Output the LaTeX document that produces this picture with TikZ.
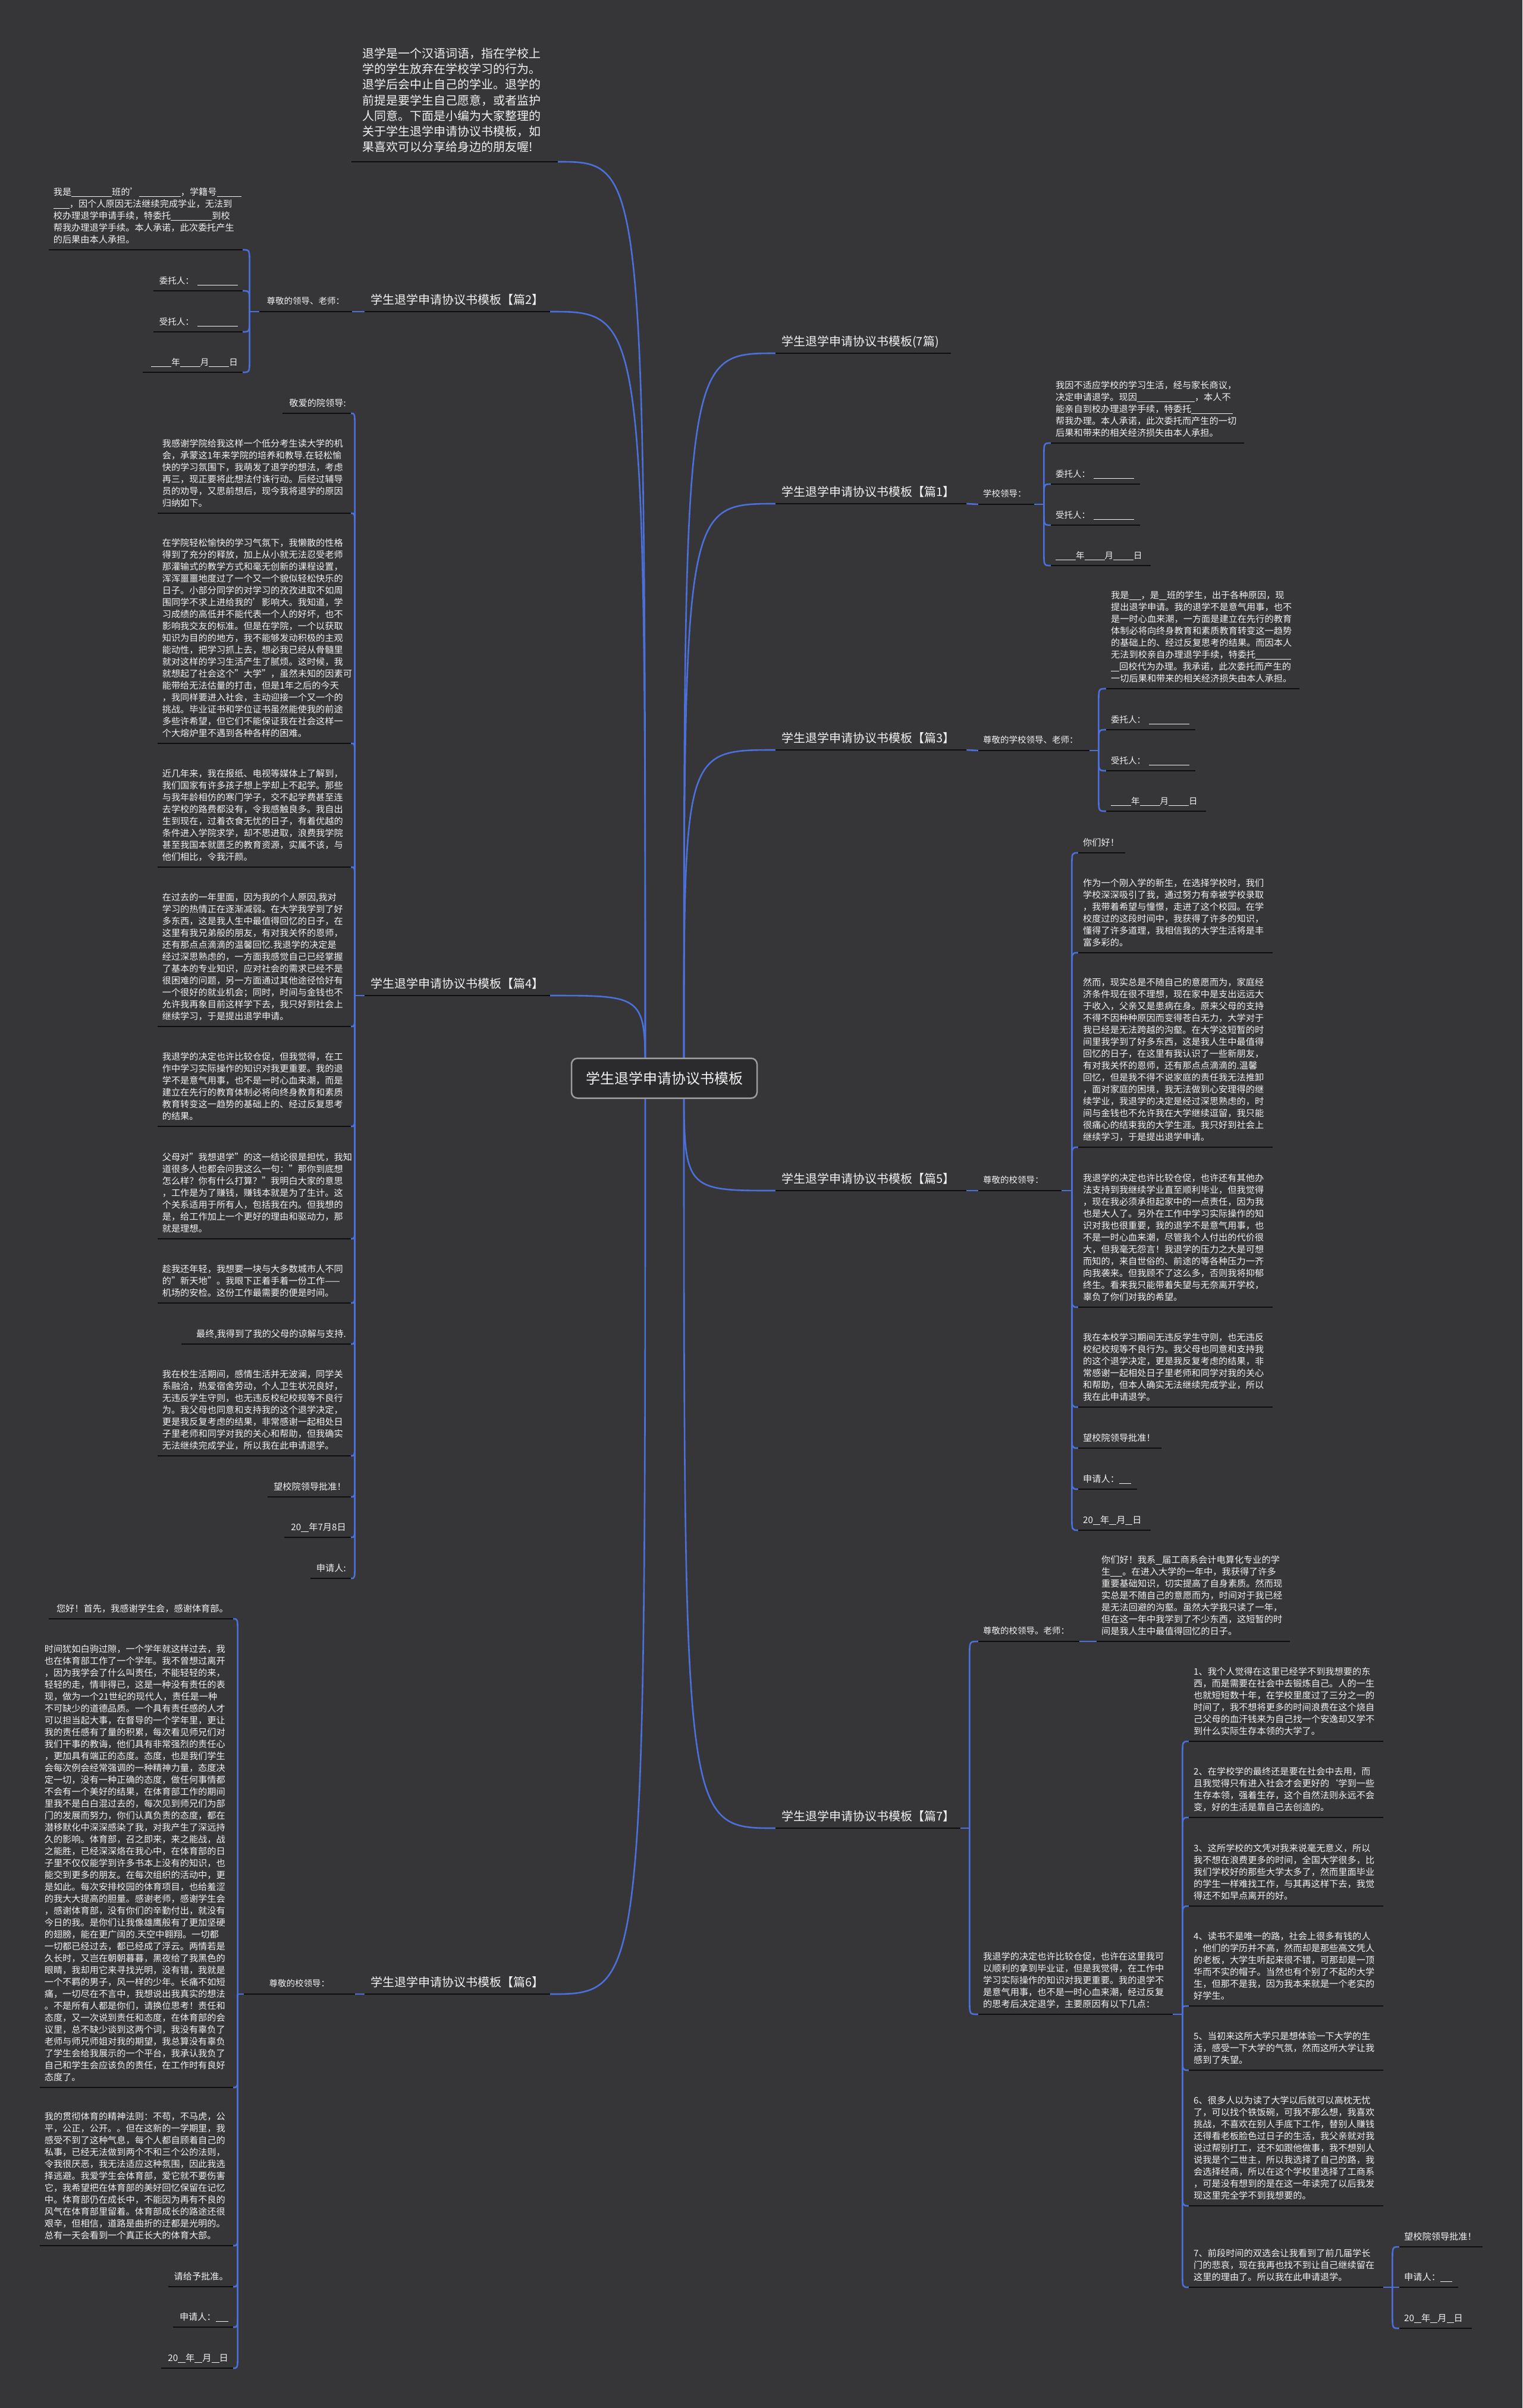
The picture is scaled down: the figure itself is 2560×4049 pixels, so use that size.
\documentclass[tikz,border=0pt]{standalone}
\usepackage{fontspec}
\setmainfont{Noto Sans CJK SC}
\usetikzlibrary{calc}
\definecolor{bgc}{HTML}{363638}
\definecolor{bluec}{HTML}{4C70DA}
\definecolor{txtc}{HTML}{F2F2F2}
\definecolor{ulc}{HTML}{0E0E0E}
\definecolor{cfill}{HTML}{2B2B2D}
\definecolor{cborder}{HTML}{9C9C9C}
\pgfdeclarelayer{back}
\pgfdeclarelayer{lines}
\pgfsetlayers{back,lines,main}
\setlength{\parindent}{0pt}
\newcommand\fbody{\fontsize{15.2pt}{20pt}\selectfont}
\newcommand\flab{\fontsize{14.5pt}{20pt}\selectfont}
\newcommand\fttl{\fontsize{20pt}{26pt}\selectfont}
\newcommand\fintro{\fontsize{20pt}{26.2pt}\selectfont}
\newcommand\fcent{\fontsize{24pt}{30pt}\selectfont}
\newcommand\bl[1]{\rule[-1.8pt]{#1pt}{1.1pt}}
\newcommand\brk[3]{\draw[conn] (#1) -- ($(#1|-#2)+(0,#3)$) .. controls (#1|-#2) .. (#2);}
\tikzset{
 every node/.style={text=txtc},
 conn/.style={draw=bluec, line width=2.6pt},
 uline/.style={draw=ulc, line width=2.8pt},
 item/.style={font=\fbody, inner xsep=8pt, inner ysep=2pt, align=left, execute at end node={\rule[-9pt]{0pt}{9pt}}},
 itemr/.style={item, align=right},
 small/.style={item, font=\flab},
 smallr/.style={small, align=right},
 lab/.style={font=\flab, inner xsep=8pt, inner ysep=2pt, align=left, execute at end node={\rule[-10pt]{0pt}{10pt}}},
 ttl/.style={font=\fttl, inner xsep=10pt, inner ysep=2pt, align=left, execute at end node={\rule[-10pt]{0pt}{10pt}}},
 intro/.style={font=\fintro, inner xsep=19pt, inner ysep=2pt, align=left, execute at end node={\rule[-15pt]{0pt}{15pt}}},
 cbox/.style={draw=cborder, fill=cfill, line width=2.5pt, rounded corners=10pt, minimum width=312pt, minimum height=67pt, font=\fcent, inner sep=0pt},
}
\begin{document}
\begin{tikzpicture}[x=1pt,y=-1pt]
\begin{pgfonlayer}{back}
\fill[bgc] (0,0) rectangle (2560,4049);
\end{pgfonlayer}
\useasboundingbox (0,0) rectangle (2560,4049);

\node[cbox] (C) at (1117,1813) {学生退学申请协议书模板};

\node[intro, anchor=south east, text width=309pt] (IN) at (938,272) {退学是一个汉语词语，指在学校上\\学的学生放弃在学校学习的行为。\\退学后会中止自己的学业。退学的\\前提是要学生自己愿意，或者监护\\人同意。下面是小编为大家整理的\\关于学生退学申请协议书模板，如\\果喜欢可以分享给身边的朋友喔!};

% titles right
\node[ttl, anchor=south west, text width=275pt] (T7p) at (1304,594) {学生退学申请协议书模板(7篇)};
\node[ttl, anchor=south west, text width=301pt] (T1) at (1304,847) {学生退学申请协议书模板【篇1】};
\node[ttl, anchor=south west, text width=301pt] (T3) at (1304,1261) {学生退学申请协议书模板【篇3】};
\node[ttl, anchor=south west, text width=301pt] (T5) at (1304,2002) {学生退学申请协议书模板【篇5】};
\node[ttl, anchor=south west, text width=291pt] (T7) at (1304,3074) {学生退学申请协议书模板【篇7】};
% titles left
\node[ttl, anchor=south east, text width=292pt, align=right] (T2) at (925,524) {学生退学申请协议书模板【篇2】};
\node[ttl, anchor=south east, text width=292pt, align=right] (T4) at (925,1674) {学生退学申请协议书模板【篇4】};
\node[ttl, anchor=south east, text width=292pt, align=right] (T6) at (925,3353) {学生退学申请协议书模板【篇6】};

% labels
\node[lab, anchor=south west, text width=78pt] (S1) at (1645,848) {学校领导：};
\node[lab, anchor=south west, text width=171pt] (S3) at (1645,1262) {尊敬的学校领导、老师：};
\node[lab, anchor=south west, text width=124pt] (S5) at (1645,2002) {尊敬的校领导：};
\node[lab, anchor=south west, text width=154pt] (S7) at (1645,2760) {尊敬的校领导。老师：};
\node[lab, anchor=south east, text width=140pt, align=center] (S2) at (592,524) {尊敬的领导、老师：};
\node[lab, anchor=south east, text width=171pt, align=center] (S6) at (597,3353) {尊敬的校领导：};

% ---------- 篇1
\node[item, anchor=south west, text width=309pt] (P1a) at (1767,745) {我因不适应学校的学习生活，经与家长商议，\\决定申请退学。现因\bl{97}，本人不\\能亲自到校办理退学手续，特委托\bl{70}\\帮我办理。本人承诺，此次委托而产生的一切\\后果和带来的相关经济损失由本人承担。};
\node[small, anchor=south west, text width=134pt] (P1b) at (1767,814) {委托人：\hspace{6pt}\bl{68}};
\node[small, anchor=south west, text width=134pt] (P1c) at (1767,883) {受托人：\hspace{6pt}\bl{68}};
\node[small, anchor=south west, text width=152pt] (P1d) at (1767,951) {\bl{34}年\bl{34}月\bl{34}日};

% ---------- 篇3
\node[item, anchor=south west, text width=309pt] (P3a) at (1860,1158) {我是\bl{20}，是\bl{13}班的学生，出于各种原因，现\\提出退学申请。我的退学不是意气用事，也不\\是一时心血来潮，一方面是建立在先行的教育\\体制必将向终身教育和素质教育转变这一趋势\\的基础上的、经过反复思考的结果。而因本人\\无法到校亲自办理退学手续，特委托\bl{60}\\\bl{14}回校代为办理。我承诺，此次委托而产生的\\一切后果和带来的相关经济损失由本人承担。};
\node[small, anchor=south west, text width=134pt] (P3b) at (1860,1227) {委托人：\hspace{6pt}\bl{68}};
\node[small, anchor=south west, text width=134pt] (P3c) at (1860,1296) {受托人：\hspace{6pt}\bl{68}};
\node[small, anchor=south west, text width=152pt] (P3d) at (1860,1364) {\bl{34}年\bl{34}月\bl{34}日};

% ---------- 篇5
\node[item, anchor=south west, text width=63pt] (P5a) at (1813,1434) {你们好！};
\node[item, anchor=south west, text width=311pt] (P5b) at (1813,1602) {作为一个刚入学的新生，在选择学校时，我们\\学校深深吸引了我，通过努力有幸被学校录取\\，我带着希望与憧憬，走进了这个校园。在学\\校度过的这段时间中，我获得了许多的知识，\\懂得了许多道理，我相信我的大学生活将是丰\\富多彩的。};
\node[item, anchor=south west, text width=311pt] (P5c) at (1813,1929) {然而，现实总是不随自己的意愿而为，家庭经\\济条件现在很不理想，现在家中是支出远远大\\于收入，父亲又是患病在身。原来父母的支持\\不得不因种种原因而变得苍白无力，大学对于\\我已经是无法跨越的沟壑。在大学这短暂的时\\间里我学到了好多东西，这是我人生中最值得\\回忆的日子，在这里有我认识了一些新朋友，\\有对我关怀的恩师，还有那点点滴滴的.温馨\\回忆，但是我不得不说家庭的责任我无法推卸\\，面对家庭的困境，我无法做到心安理得的继\\续学业，我退学的决定是经过深思熟虑的，时\\间与金钱也不允许我在大学继续逗留，我只能\\很痛心的结束我的大学生涯。我只好到社会上\\继续学习，于是提出退学申请。};
\node[item, anchor=south west, text width=311pt] (P5d) at (1813,2198) {我退学的决定也许比较仓促，也许还有其他办\\法支持到我继续学业直至顺利毕业，但我觉得\\，现在我必须承担起家中的一点责任，因为我\\也是大人了。另外在工作中学习实际操作的知\\识对我也很重要，我的退学不是意气用事，也\\不是一时心血来潮，尽管我个人付出的代价很\\大，但我毫无怨言！我退学的压力之大是可想\\而知的，来自世俗的、前途的等各种压力一齐\\向我袭来。但我顾不了这么多，否则我将抑郁\\终生。看来我只能带着失望与无奈离开学校，\\辜负了你们对我的希望。};
\node[item, anchor=south west, text width=311pt] (P5e) at (1813,2366) {我在本校学习期间无违反学生守则，也无违反\\校纪校规等不良行为。我父母也同意和支持我\\的这个退学决定，更是我反复考虑的结果，非\\常感谢一起相处日子里老师和同学对我的关心\\和帮助，但本人确实无法继续完成学业，所以\\我在此申请退学。};
\node[item, anchor=south west, text width=124pt] (P5f) at (1813,2435) {望校院领导批准！};
\node[item, anchor=south west, text width=83pt] (P5g) at (1813,2504) {申请人：\bl{20}};
\node[item, anchor=south west, text width=106pt] (P5h) at (1813,2573) {20\bl{12}年\bl{12}月\bl{12}日};

% ---------- 篇7
\node[item, anchor=south west, text width=309pt] (P7a) at (1844,2760) {你们好！我系\bl{11}届工商系会计电算化专业的学\\生\bl{20}。在进入大学的一年中，我获得了许多\\重要基础知识，切实提高了自身素质。然而现\\实总是不随自己的意愿而为，时间对于我已经\\是无法回避的沟壑。虽然大学我只读了一年，\\但在这一年中我学到了不少东西，这短暂的时\\间是我人生中最值得回忆的日子。};
\node[item, anchor=south west, text width=311pt] (P7b) at (1645,3387) {我退学的决定也许比较仓促，也许在这里我可\\以顺利的拿到毕业证，但是我觉得，在工作中\\学习实际操作的知识对我更重要。我的退学不\\是意气用事，也不是一时心血来潮，经过反复\\的思考后决定退学，主要原因有以下几点：};
\node[item, anchor=south west, text width=311pt] (I1) at (1999,2928) {1、我个人觉得在这里已经学不到我想要的东\\西，而是需要在社会中去锻炼自己。人的一生\\也就短短数十年，在学校里度过了三分之一的\\时间了，我不想将更多的时间浪费在这个烧自\\己父母的血汗钱来为自己找一个安逸却又学不\\到什么实际生存本领的大学了。};
\node[item, anchor=south west, text width=311pt] (I2) at (1999,3056) {2、在学校学的最终还是要在社会中去用，而\\且我觉得只有进入社会才会更好的`学到一些\\生存本领，强着生存，这个自然法则永远不会\\变，好的生活是靠自己去创造的。};
\node[item, anchor=south west, text width=311pt] (I3) at (1999,3205) {3、这所学校的文凭对我来说毫无意义，所以\\我不想在浪费更多的时间，全国大学很多，比\\我们学校好的那些大学太多了，然而里面毕业\\的学生一样难找工作，与其再这样下去，我觉\\得还不如早点离开的好。};
\node[item, anchor=south west, text width=311pt] (I4) at (1999,3373) {4、读书不是唯一的路，社会上很多有钱的人\\，他们的学历并不高，然而却是那些高文凭人\\的老板，大学生听起来很不错，可那却是一顶\\华而不实的帽子。当然也有个别了不起的大学\\生，但那不是我，因为我本来就是一个老实的\\好学生。};
\node[item, anchor=south west, text width=311pt] (I5) at (1999,3481) {5、当初来这所大学只是想体验一下大学的生\\活，感受一下大学的气氛，然而这所大学让我\\感到了失望。};
\node[item, anchor=south west, text width=311pt] (I6) at (1999,3709) {6、很多人以为读了大学以后就可以高枕无忧\\了，可以找个铁饭碗，可我不那么想，我喜欢\\挑战，不喜欢在别人手底下工作，替别人赚钱\\还得看老板脸色过日子的生活，我父亲就对我\\说过帮别打工，还不如跟他做事，我不想别人\\说我是个二世主，所以我选择了自己的路，我\\会选择经商，所以在这个学校里选择了工商系\\，可是没有想到的是在这一年读完了以后我发\\现这里完全学不到我想要的。};
\node[item, anchor=south west, text width=311pt] (I7) at (1999,3846) {7、前段时间的双选会让我看到了前几届学长\\门的悲哀，现在我再也找不到让自己继续留在\\这里的理由了。所以我在此申请退学。};
\node[item, anchor=south west, text width=124pt] (Q1) at (2353,3778) {望校院领导批准！};
\node[item, anchor=south west, text width=83pt] (Q2) at (2353,3846) {申请人：\bl{20}};
\node[item, anchor=south west, text width=106pt] (Q3) at (2353,3915) {20\bl{12}年\bl{12}月\bl{12}日};

% ---------- 篇2
\node[item, anchor=south east, text width=310pt] (P2a) at (408,420) {我是\bl{68}班的'\bl{70}，学籍号\bl{41}\\\bl{27}，因个人原因无法继续完成学业，无法到\\校办理退学申请手续，特委托\bl{69}到校\\帮我办理退学手续。本人承诺，此次委托产生\\的后果由本人承担。};
\node[smallr, anchor=south east, text width=134pt] (P2b) at (408,489) {委托人：\hspace{6pt}\bl{68}};
\node[smallr, anchor=south east, text width=134pt] (P2c) at (408,558) {受托人：\hspace{6pt}\bl{68}};
\node[smallr, anchor=south east, text width=152pt] (P2d) at (408,626) {\bl{34}年\bl{34}月\bl{34}日};

% ---------- 篇4
\node[itemr, anchor=south east, text width=99pt] (P4a) at (590,695) {敬爱的院领导:};
\node[item, anchor=south east, text width=309pt] (P4b) at (590,863) {我感谢学院给我这样一个低分考生读大学的机\\会，承蒙这1年来学院的培养和教导.在轻松愉\\快的学习氛围下，我萌发了退学的想法，考虑\\再三，现正要将此想法付诛行动。后经过辅导\\员的劝导，又思前想后，现今我将退学的原因\\归纳如下。};
\node[item, anchor=south east, text width=309pt] (P4c) at (590,1250) {在学院轻松愉快的学习气氛下，我懒散的性格\\得到了充分的释放，加上从小就无法忍受老师\\那灌输式的教学方式和毫无创新的课程设置，\\浑浑噩噩地度过了一个又一个貌似轻松快乐的\\日子。小部分同学的对学习的孜孜进取不如周\\围同学不求上进给我的'影响大。我知道，学\\习成绩的高低并不能代表一个人的好坏，也不\\影响我交友的标准。但是在学院，一个以获取\\知识为目的的地方，我不能够发动积极的主观\\能动性，把学习抓上去，想必我已经从骨髓里\\就对这样的学习生活产生了腻烦。这时候，我\\就想起了社会这个"大学"，虽然未知的因素可\\能带给无法估量的打击，但是1年之后的今天\\，我同样要进入社会，主动迎接一个又一个的\\挑战。毕业证书和学位证书虽然能使我的前途\\多些许希望，但它们不能保证我在社会这样一\\个大熔炉里不遇到各种各样的困难。};
\node[item, anchor=south east, text width=309pt] (P4d) at (590,1458) {近几年来，我在报纸、电视等媒体上了解到，\\我们国家有许多孩子想上学却上不起学。那些\\与我年龄相仿的寒门学子，交不起学费甚至连\\去学校的路费都没有，令我感触良多。我自出\\生到现在，过着衣食无忧的日子，有着优越的\\条件进入学院求学，却不思进取，浪费我学院\\甚至我国本就匮乏的教育资源，实属不该，与\\他们相比，令我汗颜。};
\node[item, anchor=south east, text width=309pt] (P4e) at (590,1726) {在过去的一年里面，因为我的个人原因,我对\\学习的热情正在逐渐减弱。在大学我学到了好\\多东西，这是我人生中最值得回忆的日子，在\\这里有我兄弟般的朋友，有对我关怀的恩师，\\还有那点点滴滴的温馨回忆.我退学的决定是\\经过深思熟虑的，一方面我感觉自己已经掌握\\了基本的专业知识，应对社会的需求已经不是\\很困难的问题，另一方面通过其他途径恰好有\\一个很好的就业机会；同时，时间与金钱也不\\允许我再象目前这样学下去，我只好到社会上\\继续学习，于是提出退学申请。};
\node[item, anchor=south east, text width=309pt] (P4f) at (590,1894) {我退学的决定也许比较仓促，但我觉得，在工\\作中学习实际操作的知识对我更重要。我的退\\学不是意气用事，也不是一时心血来潮，而是\\建立在先行的教育体制必将向终身教育和素质\\教育转变这一趋势的基础上的、经过反复思考\\的结果。};
\node[item, anchor=south east, text width=309pt] (P4g) at (590,2083) {父母对"我想退学"的这一结论很是担忧，我知\\道很多人也都会问我这么一句："那你到底想\\怎么样？你有什么打算？"我明白大家的意思\\，工作是为了赚钱，赚钱本就是为了生计。这\\个关系适用于所有人，包括我在内。但我想的\\是，给工作加上一个更好的理由和驱动力，那\\就是理想。};
\node[item, anchor=south east, text width=309pt] (P4h) at (590,2191) {趁我还年轻，我想要一块与大多数城市人不同\\的"新天地"。我眼下正着手着一份工作——\\机场的安检。这份工作最需要的便是时间。};
\node[itemr, anchor=south east, text width=269pt] (P4i) at (590,2260) {最终,我得到了我的父母的谅解与支持.};
\node[item, anchor=south east, text width=309pt] (P4j) at (590,2448) {我在校生活期间，感情生活并无波澜，同学关\\系融洽，热爱宿舍劳动，个人卫生状况良好，\\无违反学生守则，也无违反校纪校规等不良行\\为。我父母也同意和支持我的这个退学决定，\\更是我反复考虑的结果，非常感谢一起相处日\\子里老师和同学对我的关心和帮助，但我确实\\无法继续完成学业，所以我在此申请退学。};
\node[itemr, anchor=south east, text width=124pt] (P4k) at (590,2517) {望校院领导批准！};
\node[itemr, anchor=south east, text width=96pt] (P4l) at (590,2585) {20\bl{13}年7月8日};
\node[itemr, anchor=south east, text width=52pt] (P4m) at (590,2654) {申请人:};

% ---------- 篇6
\node[itemr, anchor=south east, text width=294pt] (P6a) at (392,2722) {您好！首先，我感谢学生会，感谢体育部。};
\node[item, anchor=south east, text width=309pt] (P6b) at (392,3510) {时间犹如白驹过隙，一个学年就这样过去，我\\也在体育部工作了一个学年。我不曾想过离开\\，因为我学会了什么叫责任，不能轻轻的来，\\轻轻的走，情非得已，这是一种没有责任的表\\现，做为一个21世纪的现代人，责任是一种\\不可缺少的道德品质。一个具有责任感的人才\\可以担当起大事，在督导的一个学年里，更让\\我的责任感有了量的积累，每次看见师兄们对\\我们干事的教诲，他们具有非常强烈的责任心\\，更加具有端正的态度。态度，也是我们学生\\会每次例会经常强调的一种精神力量，态度决\\定一切，没有一种正确的态度，做任何事情都\\不会有一个美好的结果，在体育部工作的期间\\里我不是白白混过去的，每次见到师兄们为部\\门的发展而努力，你们认真负责的态度，都在\\潜移默化中深深感染了我，对我产生了深远持\\久的影响。体育部，召之即来，来之能战，战\\之能胜，已经深深烙在我心中，在体育部的日\\子里不仅仅能学到许多书本上没有的知识，也\\能交到更多的朋友。在每次组织的活动中，更\\是如此。每次安排校园的体育项目，也给羞涩\\的我大大提高的胆量。感谢老师，感谢学生会\\，感谢体育部，没有你们的辛勤付出，就没有\\今日的我。是你们让我像雄鹰般有了更加坚硬\\的翅膀，能在更广阔的.天空中翱翔。一切都\\一切都已经过去，都已经成了浮云。两情若是\\久长时，又岂在朝朝暮暮，黑夜给了我黑色的\\眼睛，我却用它来寻找光明，没有错，我就是\\一个不羁的男子，风一样的少年。长痛不如短\\痛，一切尽在不言中，我想说出我真实的想法\\。不是所有人都是你们，请换位思考！责任和\\态度，又一次说到责任和态度，在体育部的会\\议里，总不缺少谈到这两个词，我没有辜负了\\老师与师兄师姐对我的期望，我总算没有辜负\\了学生会给我展示的一个平台，我承认我负了\\自己和学生会应该负的责任，在工作时有良好\\态度了。};
\node[item, anchor=south east, text width=309pt] (P6c) at (392,3776) {我的贯彻体育的精神法则：不苟，不马虎，公\\平，公正，公开。。但在这新的一学期里，我\\感受不到了这种气息，每个人都自顾着自己的\\私事，已经无法做到两个不和三个公的法则，\\令我很厌恶，我无法适应这种氛围，因此我选\\择逃避。我爱学生会体育部，爱它就不要伤害\\它，我希望把在体育部的美好回忆保留在记忆\\中。体育部仍在成长中，不能因为再有不良的\\风气在体育部里留着。体育部成长的路途还很\\艰辛，但相信，道路是曲折的迂都是光明的。\\总有一天会看到一个真正长大的体育大部。};
\node[itemr, anchor=south east, text width=93pt] (P6d) at (392,3845) {请给予批准。};
\node[itemr, anchor=south east, text width=85pt] (P6e) at (392,3913) {申请人：\bl{21}};
\node[itemr, anchor=south east, text width=105pt] (P6f) at (392,3982) {20\bl{13}年\bl{13}月\bl{13}日};

% underlines
\foreach \n in {IN,T7p,T1,T3,T5,T7,T2,T4,T6,S1,S3,S5,S7,S2,S6,P1a,P1b,P1c,P1d,P3a,P3b,P3c,P3d,P5a,P5b,P5c,P5d,P5e,P5f,P5g,P5h,P7a,P7b,I1,I2,I3,I4,I5,I6,I7,Q1,Q2,Q3,P2a,P2b,P2c,P2d,P4a,P4b,P4c,P4d,P4e,P4f,P4g,P4h,P4i,P4j,P4k,P4l,P4m,P6a,P6b,P6c,P6d,P6e,P6f}
  \draw[uline] (\n.south west) -- (\n.south east);

\begin{pgfonlayer}{lines}
\coordinate (cR) at (1150,1813);
\coordinate (cL) at (1085,1813);
\foreach \t in {T7p,T1,T3,T5,T7}
  \draw[conn] (cR) .. controls (cR|-\t.south west) .. (\t.south west);
\foreach \t in {IN,T2,T4,T6}
  \draw[conn] (cL) .. controls (cL|-\t.south east) .. (\t.south east);

\draw[conn] (T1.south east) -- (S1.south west);
\draw[conn] (T3.south east) -- (S3.south west);
\draw[conn] (T5.south east) -- (S5.south west);
\draw[conn] (S2.south east) -- (T2.south west);
\draw[conn] (S6.south east) -- (T6.south west);
\draw[conn] (S7.south east) -- (P7a.south west);

% G1
\coordinate (b1) at ($(S1.south east)+(16,0)$);
\draw[conn] (S1.south east) -- (b1);
\brk{b1}{P1a.south west}{22}\brk{b1}{P1b.south west}{22}
\brk{b1}{P1c.south west}{-22}\brk{b1}{P1d.south west}{-22}
% G3
\coordinate (b3) at ($(S3.south east)+(15,0)$);
\draw[conn] (S3.south east) -- (b3);
\brk{b3}{P3a.south west}{22}\brk{b3}{P3b.south west}{22}
\brk{b3}{P3c.south west}{-22}\brk{b3}{P3d.south west}{-22}
% G5
\coordinate (b5) at ($(S5.south east)+(17,0)$);
\draw[conn] (S5.south east) -- (b5);
\brk{b5}{P5a.south west}{22}\brk{b5}{P5b.south west}{22}\brk{b5}{P5c.south west}{22}
\brk{b5}{P5d.south west}{-22}\brk{b5}{P5e.south west}{-22}\brk{b5}{P5f.south west}{-22}
\brk{b5}{P5g.south west}{-22}\brk{b5}{P5h.south west}{-22}
% G7
\coordinate (b7) at ($(T7.south east)+(15,0)$);
\draw[conn] (T7.south east) -- (b7);
\brk{b7}{S7.south west}{22}\brk{b7}{P7b.south west}{-22}
% G7b
\coordinate (b7b) at ($(P7b.south east)+(16,0)$);
\draw[conn] (P7b.south east) -- (b7b);
\brk{b7b}{I1.south west}{22}\brk{b7b}{I2.south west}{22}\brk{b7b}{I3.south west}{22}
\brk{b7b}{I4.south west}{7}
\brk{b7b}{I5.south west}{-22}\brk{b7b}{I6.south west}{-22}\brk{b7b}{I7.south west}{-22}
% G7c
\coordinate (bq) at ($(I7.south east)+(15,0)$);
\draw[conn] (I7.south east) -- (bq);
\brk{bq}{Q1.south west}{22}
\draw[conn] (bq) -- (Q2.south west);
\brk{bq}{Q3.south west}{-22}
% G2
\coordinate (b2) at ($(S2.south west)+(-16,0)$);
\draw[conn] (S2.south west) -- (b2);
\brk{b2}{P2a.south east}{22}\brk{b2}{P2b.south east}{22}
\brk{b2}{P2c.south east}{-22}\brk{b2}{P2d.south east}{-22}
% G4
\coordinate (b4) at ($(T4.south west)+(-16,0)$);
\draw[conn] (T4.south west) -- (b4);
\brk{b4}{P4a.south east}{22}\brk{b4}{P4b.south east}{22}\brk{b4}{P4c.south east}{22}\brk{b4}{P4d.south east}{22}
\brk{b4}{P4e.south east}{-22}\brk{b4}{P4f.south east}{-22}\brk{b4}{P4g.south east}{-22}
\brk{b4}{P4h.south east}{-22}\brk{b4}{P4i.south east}{-22}\brk{b4}{P4j.south east}{-22}
\brk{b4}{P4k.south east}{-22}\brk{b4}{P4l.south east}{-22}\brk{b4}{P4m.south east}{-22}
% G6
\coordinate (b6) at ($(S6.south west)+(-10,0)$);
\draw[conn] (S6.south west) -- (b6);
\brk{b6}{P6a.south east}{22}
\brk{b6}{P6b.south east}{-22}\brk{b6}{P6c.south east}{-22}\brk{b6}{P6d.south east}{-22}
\brk{b6}{P6e.south east}{-22}\brk{b6}{P6f.south east}{-22}
\end{pgfonlayer}
\end{tikzpicture}
\end{document}
